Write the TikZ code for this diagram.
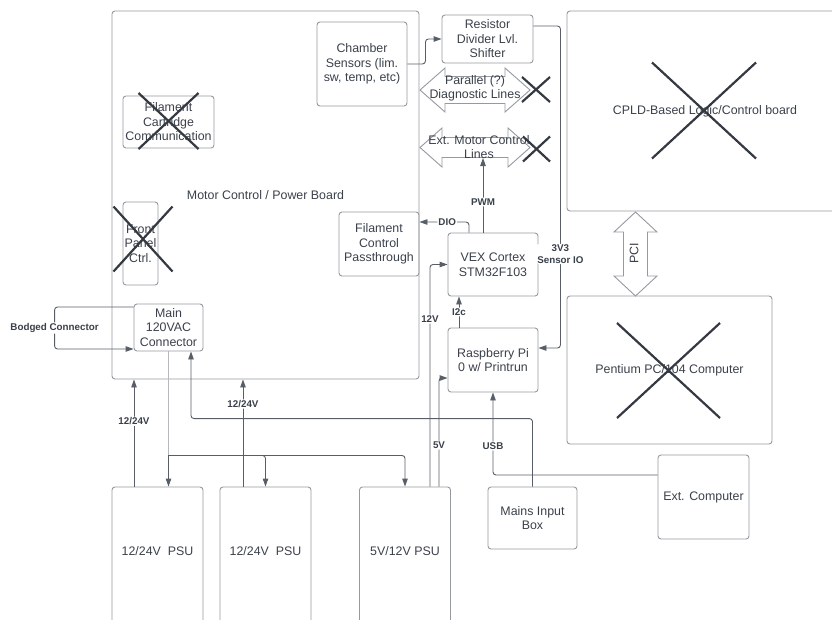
\documentclass[tikz,border=0pt]{standalone}
\usepackage{fontspec}
\setmainfont{Liberation Sans}
\usepackage{tikz}
\usetikzlibrary{arrows.meta}
\definecolor{boxline}{RGB}{150,153,160}
\definecolor{wiregray}{RGB}{88,94,104}
\definecolor{ink}{RGB}{58,64,74}
\definecolor{xink}{RGB}{52,57,66}
\tikzset{
  blk/.style    = {draw=boxline,line width=0.9pt,rounded corners=3pt,text=ink,align=center,inner sep=0pt,
                   font=\fontsize{12.4}{14.5}\selectfont},
  lbl/.style    = {text=ink,align=center,inner sep=0pt,font=\fontsize{12.4}{14.5}\selectfont},
  wire/.style   = {draw=wiregray,line width=0.9pt,rounded corners=3pt},
  arr/.style    = {wire,-{Triangle[length=8pt,width=5.5pt]}},
  acwire/.style = {draw=boxline!70,line width=0.9pt},
  tag/.style    = {fill=white,text=ink,inner sep=1pt,align=center,font=\fontsize{9.8}{11.5}\selectfont\bfseries},
  xline/.style  = {draw=xink,line width=2.2pt},
  busarr/.style = {draw=boxline,fill=white,line width=0.9pt}
}
% fat two-headed bus arrow: centre, angle, half length, half head, half body, head length
\newcommand{\busarrow}[6]{%
  \path[busarr,shift={#1},rotate=#2] (-#3,0) -- (-#3+#6,#4) -- (-#3+#6,#5) -- (#3-#6,#5) -- (#3-#6,#4)
    -- (#3,0) -- (#3-#6,-#4) -- (#3-#6,-#5) -- (-#3+#6,-#5) -- (-#3+#6,-#4) -- cycle;
}
\newcommand{\xout}[3]{%
  \draw[xline,shift={#1}] (-#2,-#3) -- (#2,#3) (#2,-#3) -- (-#2,#3);
}

\begin{document}
\begin{tikzpicture}[x=1pt,y=-1pt]
  \path[use as bounding box,clip] (0,0) rectangle (832,619);
  % boards and blocks
  \node[blk,minimum width=307pt,minimum height=368pt] (board)    at (265.5,195)   {Motor Control / Power Board};
  \node[blk,minimum width=90pt,minimum height=84pt]   (chamber)  at (362,64)      {Chamber\\Sensors (lim.\\sw, temp, etc)};
  \node[blk,minimum width=91pt,minimum height=48pt]   (resdiv)   at (487.5,39)    {Resistor\\Divider Lvl.\\Shifter};
  \node[blk,minimum width=91pt,minimum height=52pt]   (filcart)  at (168.5,122)   {Filament\\Cartridge\\Communication};
  \node[blk,minimum width=35pt,minimum height=83pt]   (frontpnl) at (140.5,243.5) {Front\\Panel\\Ctrl.};
  \node[blk,minimum width=80pt,minimum height=64pt]   (filctl)   at (379,244)     {Filament\\Control\\Passthrough};
  \node[blk,minimum width=90pt,minimum height=63pt]   (vex)      at (493,264.5)   {VEX Cortex\\STM32F103};
  \node[blk,minimum width=90pt,minimum height=64pt]   (rpi)      at (493,360)     {Raspberry Pi\\0 w/ Printrun};
  \node[blk,minimum width=69pt,minimum height=47pt]   (mainac)   at (168.5,327.5) {Main\\120VAC\\Connector};
  \node[blk,minimum width=276pt,minimum height=200pt] (cpld)     at (705,111)     {CPLD-Based Logic/Control board};
  \node[blk,minimum width=205pt,minimum height=148pt] (pc104)    at (669.5,370)   {Pentium PC/104 Computer};
  \node[blk,minimum width=91pt,minimum height=84pt]   (extpc)    at (703.5,497)   {Ext. Computer};
  \node[blk,minimum width=89pt,minimum height=62pt]   (mains)    at (532.5,518)   {Mains Input\\Box};
  \node[blk,minimum width=91pt,minimum height=160pt]  (psuA)     at (157.5,567)   {};
  \node[blk,minimum width=91pt,minimum height=160pt]  (psuB)     at (265.5,567)   {};
  \node[blk,minimum width=91pt,minimum height=160pt]  (psuC)     at (405,567)     {};
  \node[lbl] (psuAtxt) at ([yshift=-65pt]psuA.north) {12/24V\ \ PSU};
  \node[lbl] (psuBtxt) at ([yshift=-65pt]psuB.north) {12/24V\ \ PSU};
  \node[lbl] (psuCtxt) at ([yshift=-65pt]psuC.north) {5V/12V PSU};

  % buses
  \busarrow{(475,90)}{0}{55}{22}{13.5}{25}
  \node[lbl] (diaglines) at (475,88.5) {Parallel (?)\\Diagnostic Lines};
  \busarrow{(475,147.5)}{0}{55}{19.5}{10}{22}
  \node[lbl] (motorlines) at (479,147) {Ext. Motor Control\\Lines};
  \busarrow{(635.5,254)}{90}{42}{21.5}{12}{20}
  \node[lbl,rotate=90] (pcibus) at (634,253) {PCI};

  % signal lines
  \coordinate (mbusS) at (483,158);
  \draw[arr] (chamber.east) -- ++(18,0) |- (resdiv.west);
  \draw[arr] ([yshift=13pt]resdiv.east) -- ++(27,0) |- ([yshift=12pt]rpi.east) node[tag,pos=0.354] {3V3\\Sensor IO};
  \draw[arr] ([xshift=-10pt]vex.north) -- (mbusS) node[tag,pos=0.41] {PWM};
  \draw[arr] ([xshift=-24pt]vex.north) |- ([yshift=22pt]filctl.east) node[tag,pos=0.72] {DIO};
  \draw[arr] ([xshift=-34pt]rpi.north) -- ([xshift=-34pt]vex.south) node[tag,midway] {I2c};
  \draw[arr] ([xshift=25pt]psuC.north) |- (vex.west) node[tag,pos=0.377] {12V};
  \draw[arr] ([xshift=34pt]psuC.north) |- ([yshift=-18pt]rpi.west) node[tag,pos=0.19] {5V};
  \draw[arr] ([yshift=22pt]extpc.west) -| (rpi.south) node[tag,pos=0.675] {USB};

  % power
  \coordinate (acsplit) at ([yshift=-104pt]mainac.south);
  \coordinate (pA) at ([xshift=-23.5pt]psuA.north);
  \coordinate (pB) at ([xshift=-22.5pt]psuB.north);
  \draw[arr] (mains.north) -- ++(0,-68) -| ([xshift=22.5pt]mainac.south);
  \draw[acwire] (mainac.south) -- (acsplit);
  \draw[arr] (acsplit) -- (acsplit |- psuA.north);
  \draw[arr] (acsplit) -| (psuB.north);
  \draw[arr] (acsplit) -| (psuC.north);
  \draw[arr] (pA) -- (pA |- board.south) node[tag,pos=0.61] {12/24V};
  \draw[arr] (pB) -- (pB |- board.south) node[tag,pos=0.77] {12/24V};
  \draw[arr] ([yshift=20.5pt]mainac.west) -- ++(-79,0) |- ([yshift=-21.5pt]mainac.west)
    node[tag,pos=0.25] {Bodged Connector};

  % dropped parts
  \xout{(168.5,121)}{30}{28}
  \xout{(143,239)}{29.5}{32.5}
  \xout{(536,89.5)}{14}{12.5}
  \xout{(536.5,149)}{13.5}{12.5}
  \xout{(704,110.5)}{52}{48}
  \xout{(668.5,370.5)}{51.5}{47.5}
\end{tikzpicture}
\end{document}
